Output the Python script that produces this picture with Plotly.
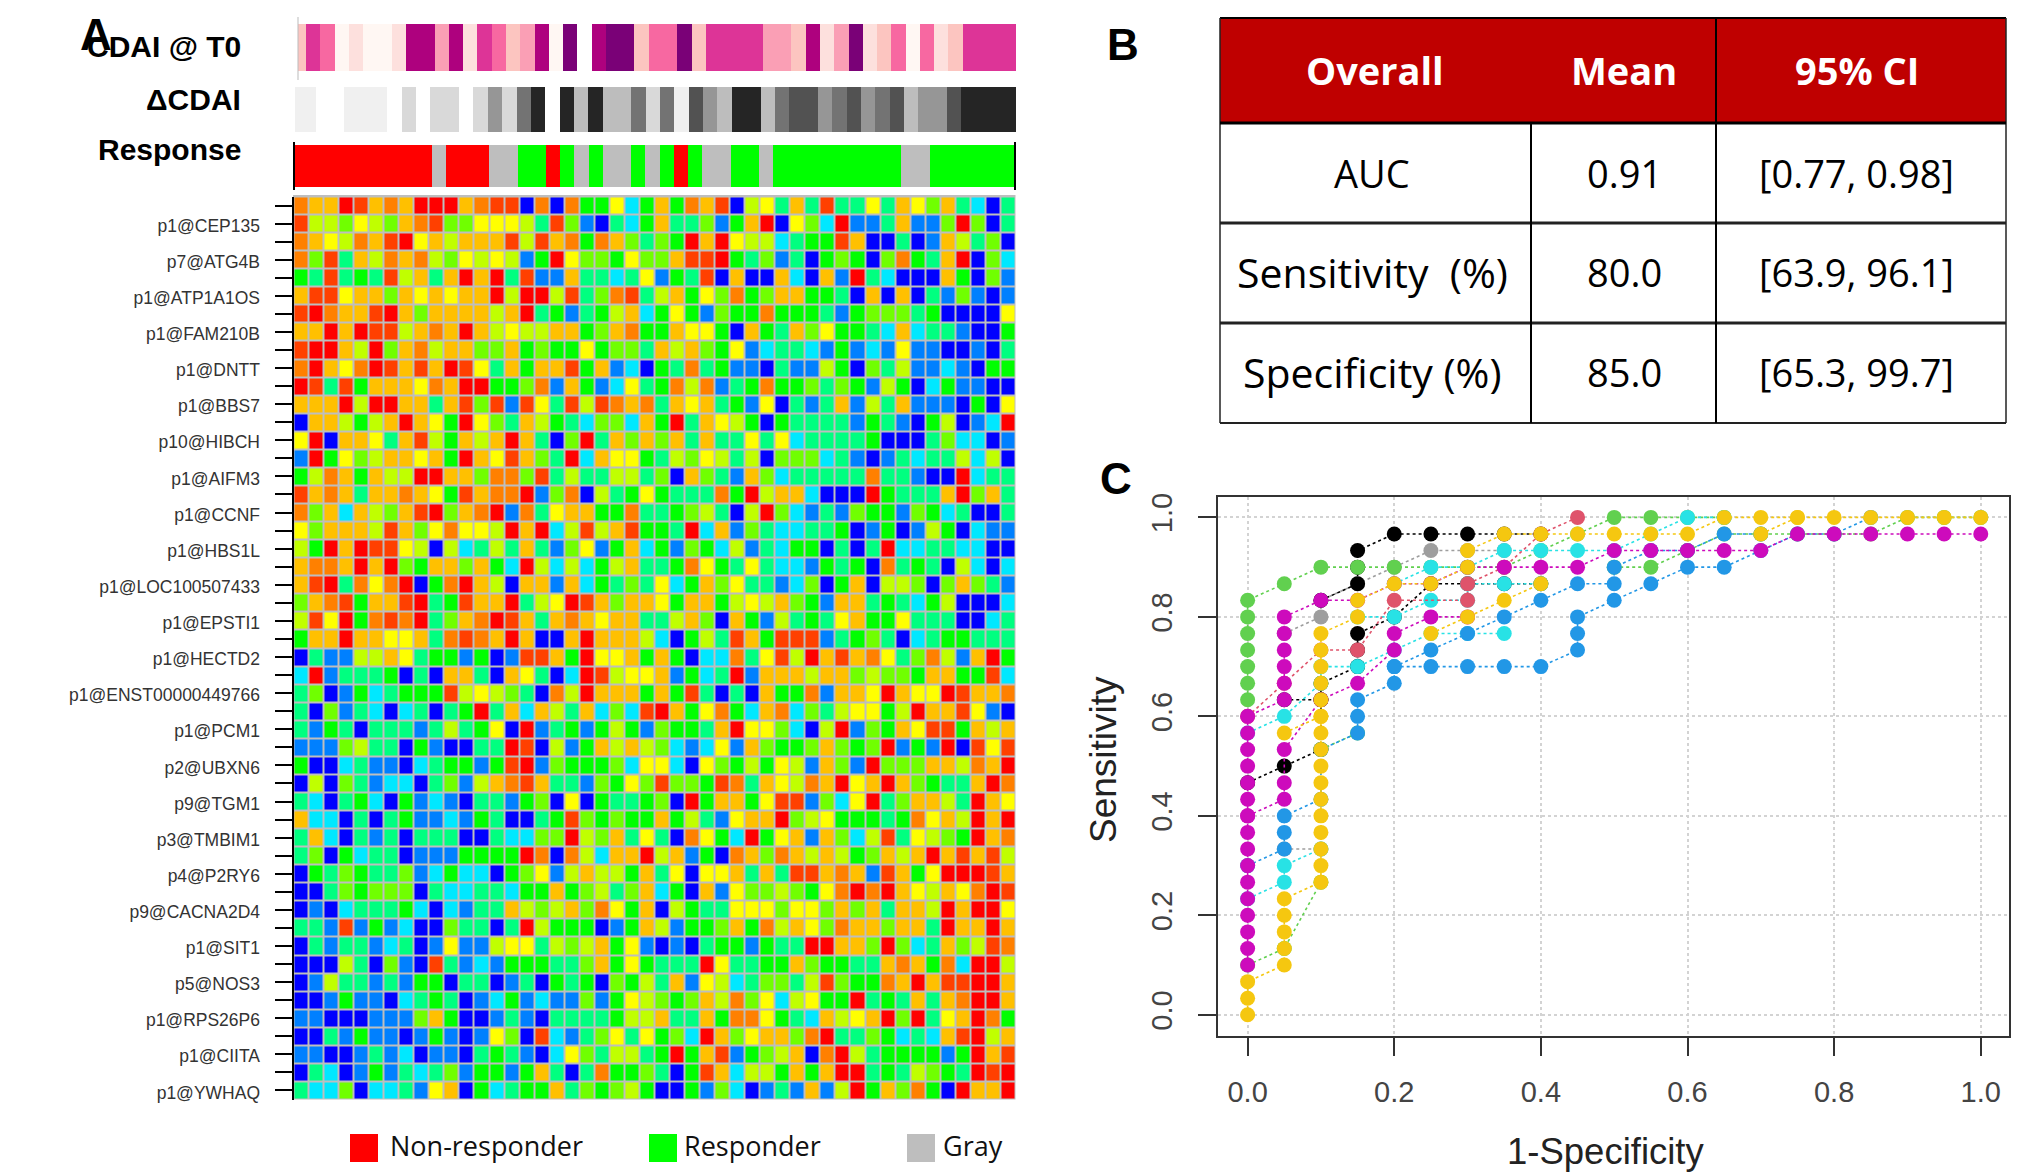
import plotly.graph_objects as go

W, H = 2031, 1173

# ---------- panel A data ----------
gene_labels = ["p1@CEP135", "p7@ATG4B", "p1@ATP1A1OS", "p1@FAM210B", "p1@DNTT", "p1@BBS7", "p10@HIBCH",
               "p1@AIFM3", "p1@CCNF", "p1@HBS1L", "p1@LOC100507433", "p1@EPSTI1", "p1@HECTD2",
               "p1@ENST00000449766", "p1@PCM1", "p2@UBXN6", "p9@TGM1", "p3@TMBIM1", "p4@P2RY6",
               "p9@CACNA2D4", "p1@SIT1", "p5@NOS3", "p1@RPS26P6", "p1@CIITA", "p1@YWHAQ"]

heat_colors = ["#0000ff", "#0080ff", "#00e8ff", "#00ff80", "#00ff00", "#70ff00", "#c0ff00", "#ffff00",
               "#ffc000", "#ff8000", "#ff4000", "#ff0000"]

# one level per cell, base-12 code (0 = blue ... b = red)
heat_rows = [
 "9 8 8 b a 8 9 8 b b b 8 9 a a 0 9 0 9 4 4 7 2 4 8 4 9 8 a 0 6 7 3 8 3 a 3 3 7 3 8 7 5 8 3 2 0 3",
 "a 6 6 5 7 6 5 8 9 a 5 5 7 7 7 6 3 a 5 1 0 3 2 4 8 3 3 5 1 4 8 b 0 7 5 2 b 1 1 3 8 1 1 5 b 5 0 3",
 "9 8 7 6 9 8 a b 7 8 6 8 8 8 a 6 a 8 9 4 9 8 5 3 5 4 b 8 b 7 6 6 2 3 4 4 a 8 0 0 3 0 1 8 6 3 5 0",
 "9 5 a 3 8 6 9 8 9 6 5 7 6 7 6 1 4 b 7 5 5 4 7 5 5 8 a a b 4 3 5 1 3 0 4 5 4 0 5 9 4 3 8 b 0 5 2",
 "4 3 a 3 4 3 a 6 8 3 8 b 8 b 3 a 1 1 8 3 3 2 3 7 1 4 3 a 0 8 0 0 8 2 0 8 1 b 3 2 0 0 0 8 4 0 5 1",
 "8 a a 7 8 8 5 8 7 8 7 8 8 b 6 b b 6 a 3 5 9 a 3 6 8 4 7 5 9 4 5 8 8 4 4 3 0 8 0 8 0 3 1 5 1 0 1",
 "a b 9 8 8 a b 8 5 8 8 8 8 6 8 b 3 4 1 3 4 6 8 2 4 7 4 1 5 4 4 9 4 4 4 3 1 4 5 5 5 3 4 0 0 0 0 7",
 "8 8 b 8 b a a 6 8 9 8 b 8 6 7 6 6 8 8 4 5 8 9 4 4 8 7 7 4 0 8 4 3 8 5 7 4 4 3 2 8 2 3 3 1 0 0 4",
 "a b b 8 6 b 5 8 9 6 8 8 5 5 8 4 5 4 4 7 4 5 5 3 8 6 8 5 4 7 1 2 3 3 2 1 4 1 2 1 7 1 1 0 0 1 0 3",
 "9 b 8 7 9 b a 8 a 8 b a 7 3 8 4 8 8 a 4 8 1 2 0 4 3 9 3 4 1 1 0 3 1 1 6 4 0 5 3 6 1 1 2 1 0 4 4",
 "b a 3 a 4 8 8 8 7 9 8 b b 4 4 5 9 1 8 4 1 2 7 3 4 9 6 9 1 3 4 9 4 4 5 3 5 4 1 6 4 0 2 4 1 1 0 0",
 "8 8 8 b 6 b b 8 8 3 8 a 5 a 1 a 7 3 a 6 a 9 8 9 3 8 7 8 3 4 1 7 0 3 1 3 8 1 6 3 8 1 1 1 0 4 0 7",
 "0 8 8 6 4 6 8 b 8 7 4 b 7 5 3 8 6 4 3 2 5 5 2 8 4 b 3 8 7 6 4 0 4 3 3 3 3 1 4 3 1 0 4 6 0 1 2 b",
 "7 b 0 8 8 7 3 8 a 6 4 8 6 8 b 8 3 0 5 b 3 8 5 8 5 8 3 8 3 3 7 3 7 2 3 3 3 3 4 0 0 0 3 5 2 2 0 1",
 "1 b 4 7 5 6 8 8 7 8 4 b 8 7 a 8 5 3 b 2 8 7 7 4 3 6 5 7 6 3 6 0 5 5 5 2 3 1 0 1 3 2 3 3 6 2 6 0",
 "4 6 9 8 4 8 6 6 b b 8 8 5 9 9 5 a 3 6 3 3 6 6 3 5 0 8 5 3 1 8 5 2 3 3 3 3 3 9 3 3 1 0 0 b 2 3 3",
 "a 8 9 8 3 8 8 9 8 7 4 a 8 9 9 b 1 5 9 0 6 3 4 7 4 3 3 3 9 4 b 6 8 8 2 0 0 0 b 4 3 3 3 8 b 5 8 3",
 "9 5 8 2 8 6 5 8 a b 5 8 9 b 1 9 3 7 8 8 4 4 9 3 3 4 5 6 3 0 6 b 5 2 1 3 1 5 4 4 1 5 4 2 3 0 0 3",
 "7 5 8 8 8 6 a 8 5 7 9 7 7 6 b 8 b 2 6 a 6 8 a 4 4 3 b 2 8 1 5 3 2 2 3 3 4 0 1 4 0 1 6 4 0 2 1 1",
 "6 4 b 8 b a a 7 6 0 6 2 3 6 3 8 3 1 5 7 1 4 8 2 4 1 5 4 2 6 1 3 2 4 4 0 3 0 3 b 2 2 3 3 2 2 0 0",
 "8 9 9 8 b 8 b 5 4 8 8 5 8 4 2 b 6 2 6 2 4 6 8 3 3 4 9 7 4 3 7 3 2 2 1 4 3 4 0 9 3 4 3 0 6 2 0 2",
 "8 a b 3 9 7 9 b 0 4 9 b 8 6 0 8 8 1 8 2 4 3 5 3 7 2 4 8 5 7 3 3 1 2 5 0 4 8 0 6 6 5 0 5 8 5 3 1",
 "5 8 9 a 4 8 8 a b 3 4 a 8 8 b 3 6 7 b a 8 5 8 8 7 4 8 8 4 6 7 6 8 5 4 1 8 8 3 4 3 2 4 6 0 0 0 2",
 "6 a 7 b 4 9 a 9 b 3 5 8 9 b a 8 3 8 9 8 7 8 8 3 3 6 8 5 0 8 4 1 6 3 4 3 7 8 4 4 7 3 3 3 0 0 2 3",
 "4 8 8 b 8 8 7 7 8 3 9 a 9 8 b 8 0 0 8 b 8 8 8 6 2 0 4 6 3 a 8 4 a a a 1 3 4 5 3 0 2 3 4 4 3 3 3",
 "0 3 1 1 6 6 8 7 3 4 4 1 4 0 1 a a 8 4 b 7 7 8 4 8 4 0 2 2 9 3 7 a 6 b 8 a 8 9 7 3 5 9 6 1 8 b 4",
 "2 b 1 3 3 3 4 0 3 0 8 8 3 0 8 7 3 0 2 b a 6 7 7 8 1 4 2 3 b 1 8 8 8 6 8 8 5 6 5 5 4 8 8 4 4 a 2",
 "3 5 0 1 4 2 3 4 4 4 a 6 7 6 5 3 0 9 6 b 8 8 8 4 8 4 a 3 0 3 0 8 4 4 9 1 8 8 7 b 8 7 7 b a 8 8 9",
 "3 0 5 1 3 2 0 2 3 0 3 4 b 3 8 2 8 6 3 8 2 5 2 a b 8 4 7 9 4 2 8 9 2 5 3 6 7 7 4 6 b 8 8 a 7 1 0",
 "3 1 4 3 0 3 3 3 1 3 6 3 4 7 0 b 1 3 4 1 4 6 4 1 5 4 4 3 8 b 7 7 5 2 0 6 b 1 5 4 8 7 a a 4 8 6 8",
 "1 1 1 5 6 3 3 0 4 1 0 0 3 3 b a 0 6 1 4 8 6 8 6 5 2 1 2 7 1 8 5 4 4 5 8 5 4 5 b 1 4 1 b 0 a 7 a",
 "4 0 0 2 3 1 1 0 2 3 4 4 1 4 a b 1 5 4 4 4 5 2 7 7 2 0 7 5 4 6 4 7 6 1 8 5 1 b 5 5 5 8 8 6 9 8 b",
 "0 6 0 5 3 1 2 2 0 3 5 1 6 8 9 a 8 3 3 1 5 4 7 5 a 5 5 4 a 9 3 8 7 6 9 8 b 7 8 b 8 5 4 3 3 8 b 9",
 "3 2 0 3 4 2 0 4 1 2 1 0 3 3 1 4 5 0 7 0 4 3 3 4 5 0 b 4 8 8 4 7 a a 1 5 2 7 b 3 5 8 8 6 3 b 8 7",
 "8 2 2 0 3 0 3 4 1 1 2 1 4 3 0 0 3 4 a 5 4 5 4 4 8 4 6 3 1 7 8 8 b 5 6 7 4 4 4 3 4 9 7 8 6 b 8 b",
 "3 8 2 0 3 1 3 0 3 3 3 0 0 3 2 2 5 5 b 6 5 8 3 7 3 0 9 7 4 2 b 4 7 8 1 8 5 2 6 a 3 7 6 5 4 b 8 9",
 "3 5 0 4 2 3 3 0 1 1 1 4 4 4 4 b 9 0 9 6 2 8 8 b 6 8 1 4 0 9 8 5 9 8 6 8 6 4 5 8 6 8 b 8 a 8 a 6",
 "0 4 3 5 4 3 3 5 1 2 4 2 2 0 4 5 7 1 6 8 6 6 4 8 3 7 0 7 7 8 3 8 3 a a 8 9 8 1 a 8 4 7 b b b a 8",
 "0 0 3 5 4 5 5 5 0 3 2 2 3 3 2 4 4 8 4 5 6 3 5 8 2 4 0 8 1 7 5 5 6 5 4 7 9 b 9 b 8 7 6 8 7 9 b a",
 "0 1 0 2 3 3 3 4 2 0 2 1 3 3 8 6 5 6 8 5 9 7 4 8 0 6 4 3 3 7 7 7 5 7 7 5 8 5 8 3 8 8 6 b 8 b b 7",
 "3 3 1 a 1 4 1 2 0 0 5 3 3 0 3 b 6 4 4 4 0 1 4 8 6 1 4 4 5 8 4 9 6 8 7 5 9 8 8 5 8 8 3 b 8 8 b 8",
 "0 3 1 3 3 1 2 3 0 1 7 1 1 6 7 7 3 6 5 6 8 4 7 1 0 1 0 3 4 4 1 4 3 3 b b 8 8 5 b 5 2 3 8 5 6 a 9",
 "0 0 0 6 3 0 5 1 0 a 3 1 2 1 4 4 4 3 3 5 8 4 7 4 3 3 3 b 7 3 3 4 4 8 5 4 4 3 3 8 9 8 4 9 2 b b 6",
 "0 1 6 3 3 1 3 1 4 4 0 3 3 0 1 3 0 4 3 4 0 5 4 6 3 8 1 7 6 2 3 5 5 3 6 a 5 4 4 9 8 b 8 a a b b 8",
 "0 0 1 4 1 1 0 2 3 4 3 0 1 2 4 1 2 1 1 5 1 4 7 6 5 4 5 8 6 9 5 7 2 6 7 4 4 b 3 4 3 8 3 8 9 b b 8",
 "1 1 0 0 0 1 1 1 5 8 4 0 0 1 3 1 0 3 3 3 3 4 6 6 8 3 3 8 4 9 9 7 4 3 2 8 6 7 8 b 5 b 3 7 8 b 9 4",
 "0 0 3 1 4 1 1 0 1 4 1 0 1 7 5 0 a 2 1 3 5 7 3 7 4 5 2 b 8 5 7 8 8 5 9 b 3 3 5 4 2 3 2 8 a b 6 8",
 "1 1 0 0 1 3 1 2 0 1 1 0 3 4 3 1 0 2 7 5 3 6 6 3 4 b 4 8 a 1 4 5 6 8 0 9 b 6 3 4 4 4 4 1 4 b 8 a",
 "0 3 2 0 1 4 1 3 2 3 5 1 4 4 1 4 8 3 0 3 9 4 4 5 3 0 4 a 8 2 6 6 4 8 4 8 b b 3 4 3 6 5 4 3 b a b",
 "3 2 2 5 0 2 2 3 1 7 8 0 4 2 3 4 4 8 3 5 4 5 6 4 0 0 4 1 5 2 0 1 3 1 8 1 6 b 4 8 5 9 4 0 b 8 8 b",
]

cdai_colors = ["#ffffff", "#fff7f3", "#fde0dd", "#fcc5c0", "#fa9fb5", "#f768a1", "#dd3497", "#ae017e", "#7a0177"]
cdai_levels = [3, 6, 5, 1, 2, 1, 1, 2, 7, 7, 4, 7, 2, 6, 5, 3, 4, 7, 1, 8, 0, 7, 8, 8, 3, 5, 5, 8, 3, 6, 6, 6, 6,
               4, 4, 3, 7, 2, 4, 8, 2, 3, 5, 1, 5, 2, 3, 6, 6, 6, 6]

delta_colors = ["#ffffff", "#f0f0f0", "#d9d9d9", "#bdbdbd", "#969696", "#737373", "#525252", "#252525"]
delta_levels = [1, 1, 0, 0, 1, 1, 1, 0, 2, 0, 2, 2, 0, 2, 4, 2, 5, 7, 0, 7, 3, 7, 3, 3, 5, 2, 5, 1, 6, 4, 3, 7, 7,
                3, 5, 6, 6, 4, 5, 6, 4, 5, 6, 3, 4, 4, 6, 7, 7, 7, 7]

resp_colors = ["#ff0000", "#00ff00", "#bebebe"]
resp_levels = [0] * 10 + [2] + [0] * 3 + [2, 2, 1, 1, 0, 1, 2, 1, 2, 2, 1, 2, 1, 0, 1, 2, 2, 1, 1, 2] + [1] * 9 + [2, 2] + [1] * 6

legend_names = ["Non-responder", "Responder", "Gray"]

# ---------- panel B data ----------
tbl_header = ["Overall", "Mean", "95% CI"]
tbl_names = ["AUC", "Sensitivity  (%)", "Specificity (%)"]
tbl_means = ["0.91", "80.0", "85.0"]
tbl_cis = ["[0.77, 0.98]", "[63.9, 96.1]", "[65.3, 99.7]"]

# ---------- panel C data: 1-specificity and count of 30 positives ----------
C_BLACK, C_RED, C_GREEN, C_BLUE, C_CYAN, C_MAG, C_YEL, C_GRAY = ("#000000", "#DF536B", "#61D04F", "#2297E6",
                                                                 "#28E2E5", "#CD0BBC", "#F5C710", "#9E9E9E")
gray1_x = [.05, .1]; gray1_k = [10, 10]
gray2_x = [.05, .1, .1, .15, .2, .25, .3, .35]; gray2_k = [23, 24, 25, 26, 27, 28, 28, 28]
black1_x = [0, .05, .1, .1, .1, .15, .15, .15, .2, .25, .3, .35, .4]
black1_k = [14, 15, 16, 19, 20, 21, 22, 23, 24, 26, 26, 26, 26]
black2_x = [.1, .15, .15, .15, .2, .25, .3, .35, .4]; black2_k = [25, 26, 27, 28, 29, 29, 29, 29, 29]
black3_x = [.05, .1]; black3_k = [19, 19]
green1_x = [0, 0, 0, 0, 0, 0, 0, .05, .1, .15, .2, .25, .3, .35, .4, .45, .5, .55, .6, .65]
green1_k = [19, 20, 21, 22, 23, 24, 25, 26, 27, 27, 27, 27, 27, 27, 28, 29, 30, 30, 30, 30]
green2_x = [0, .05, .1]; green2_k = [3, 4, 8]
green3_x = [.1, .15]; green3_k = [16, 17]
green4_x = [.5, .55, .6, .65, .7, .75, .8, .85, .9, .95, 1]
green4_k = [27, 27, 28, 29, 29, 29, 29, 29, 30, 30, 30]
cyan1_x = [0, .05, .05, .1]; cyan1_k = [7, 8, 9, 10]
cyan2_x = [0, .05, .1, .1, .15, .2, .25, .3, .35]; cyan2_k = [17, 18, 20, 21, 21, 22, 23, 23, 23]
cyan3_x = [.15, .2, .25, .3, .3, .35, .4]; cyan3_k = [24, 24, 25, 25, 26, 26, 26]
cyan4_x = [.2, .25, .3, .35, .4, .45, .5, .55, .6, .65]; cyan4_k = [26, 27, 27, 28, 28, 28, 28, 29, 30, 30]
red1_x = [0, .05, .1, .15, .2, .3, .3, .35, .4, .45]; red1_k = [18, 20, 22, 22, 25, 25, 26, 27, 29, 30]
blue1_x = [0, .05, .05, .05, .1, .1, .15, .15, .15, .2, .2, .25, .3, .35, .4, .45, .45, .45, .5, .55, .6, .65, .7, .75, .8, .85]
blue1_k = [9, 10, 11, 12, 13, 16, 17, 18, 19, 20, 21, 21, 21, 21, 21, 22, 23, 24, 25, 26, 27, 27, 28, 29, 29, 30]
blue2_x = [.2, .25, .3, .35, .4, .45, .5, .5, .55, .6, .65, .7]; blue2_k = [21, 22, 23, 24, 25, 26, 26, 27, 28, 28, 29, 29]
mag1_x = [0] * 16 + [.05] * 6 + [.1, .15, .2, .25, .3, .35, .4, .45, .5, .55, .6, .65, .7, .75, .8, .85, .9, .95, 1]
mag1_k = [3, 4, 5, 6, 7, 8, 9, 10, 11, 12, 13, 14, 15, 16, 17, 18, 19, 20, 21, 22, 23, 24,
          25, 25, 26, 26, 27, 27, 27, 27, 28, 28, 28, 28, 28, 29, 29, 29, 29, 29, 29]
mag2_x = [0, .05, .05, .05, .1, .15, .2, .2, .25, .3]; mag2_k = [12, 13, 14, 16, 19, 20, 22, 23, 24, 24]
yel1_x = [0, 0, 0] + [.05] * 5 + [.1] * 16 + [.15, .15, .2, .25, .3, .3, .35, .4, .45, .5, .55, .6, .65, .7, .75, .8, .85, .9, .95, 1]
yel1_k = [0, 1, 2, 3, 4, 5, 6, 7, 8, 9, 10, 11, 12, 13, 14, 15, 16, 17, 18, 19, 20, 21, 22, 23,
          24, 25, 26, 26, 27, 28, 29, 29, 29, 29, 29, 29, 30, 30, 30, 30, 30, 30, 30, 30]
yel2_x = [.05, .1]; yel2_k = [17, 18]
yel3_x = [.25, .3, .35, .4]; yel3_k = [23, 24, 25, 26]
yel4_x = [.7, .75]; yel4_k = [29, 30]

roc_curves = [(C_GRAY, gray1_x, gray1_k), (C_GRAY, gray2_x, gray2_k), (C_BLACK, black1_x, black1_k),
              (C_BLACK, black2_x, black2_k), (C_BLACK, black3_x, black3_k), (C_GREEN, green1_x, green1_k),
              (C_GREEN, green2_x, green2_k), (C_GREEN, green3_x, green3_k), (C_GREEN, green4_x, green4_k),
              (C_CYAN, cyan1_x, cyan1_k), (C_CYAN, cyan2_x, cyan2_k),
              (C_CYAN, cyan3_x, cyan3_k), (C_CYAN, cyan4_x, cyan4_k), (C_RED, red1_x, red1_k),
              (C_BLUE, blue1_x, blue1_k), (C_BLUE, blue2_x, blue2_k), (C_MAG, mag1_x, mag1_k),
              (C_MAG, mag2_x, mag2_k), (C_YEL, yel1_x, yel1_k), (C_YEL, yel2_x, yel2_k),
              (C_YEL, yel3_x, yel3_k), (C_YEL, yel4_x, yel4_k)]
n_positive = 30
roc_ticks = [0, 0.2, 0.4, 0.6, 0.8, 1.0]

# ---------- helpers ----------
SANS = "Liberation Sans"
BODY = "Open Sans"


def dx(px0, px1):
    return [px0 / W, px1 / W]


def dy(py0, py1):
    return [1 - py1 / H, 1 - py0 / H]


def discrete(colors):
    n = len(colors)
    out = []
    for i, c in enumerate(colors):
        out += [[i / n, c], [(i + 1) / n, c]]
    return out


def note(px, py, s, size, color="black", bold=False, family=SANS, xanchor="center", angle=0):
    text = f"<b>{s}</b>" if bold else s
    return dict(x=px / W, y=1 - py / H, xref="paper", yref="paper", text=text, showarrow=False,
                xanchor=xanchor, yanchor="middle", textangle=angle, font=dict(size=size, color=color, family=family))


def rect(x0, y0, x1, y1, fill, line=None, layer="above"):
    return dict(type="rect", xref="paper", yref="paper", x0=x0 / W, x1=x1 / W, y0=1 - y0 / H, y1=1 - y1 / H,
                fillcolor=fill, line=dict(width=0) if line is None else line, layer=layer)


def seg(x0, y0, x1, y1, color="black", width=2):
    return dict(type="line", xref="paper", yref="paper", x0=x0 / W, x1=x1 / W, y0=1 - y0 / H, y1=1 - y1 / H,
                line=dict(color=color, width=width))


fig = go.Figure()
shapes, notes = [], []

# ---------- heat map ----------
matrix = [[int(ch, 12) for ch in row.split()] for row in heat_rows]
assert len(matrix) == 50 and all(len(r) == 48 for r in matrix)
shapes.append(rect(293, 195, 1015.5, 1099.5, "#bebebe", layer="below"))
fig.add_trace(go.Heatmap(z=matrix, colorscale=discrete(heat_colors), zmin=-0.5, zmax=11.5, showscale=False,
                         xgap=2, ygap=2, xaxis="x", yaxis="y", hoverongaps=False))

# ---------- annotation tracks ----------
fig.add_trace(go.Heatmap(z=[cdai_levels], colorscale=discrete(cdai_colors), zmin=-0.5, zmax=8.5,
                         showscale=False, xaxis="x2", yaxis="y2"))
fig.add_trace(go.Heatmap(z=[delta_levels], colorscale=discrete(delta_colors), zmin=-0.5, zmax=7.5,
                         showscale=False, xaxis="x3", yaxis="y3"))
fig.add_trace(go.Heatmap(z=[resp_levels], colorscale=discrete(resp_colors), zmin=-0.5, zmax=2.5,
                         showscale=False, xaxis="x4", yaxis="y4"))

# ---------- ROC curves ----------
for color, xs, ks in roc_curves:
    fig.add_trace(go.Scatter(x=xs, y=[k / n_positive for k in ks], mode="lines+markers", xaxis="x5", yaxis="y5",
                             line=dict(color=color, width=1.6, dash="dot"),
                             marker=dict(color=color, size=15, symbol="circle", line=dict(width=0))))

hidden = dict(visible=False, showgrid=False, zeroline=False, automargin=False)
layout = dict(
    template="none",
    width=W, height=H, margin=dict(l=0, r=0, t=0, b=0, pad=0), paper_bgcolor="white", plot_bgcolor="rgba(0,0,0,0)",
    showlegend=False,
    xaxis=dict(domain=dx(293.5, 1015.4), range=[-0.5, 47.5], anchor="y", **hidden),
    yaxis=dict(domain=dy(196.5, 1099.5), range=[49.5, -0.5], anchor="x", showgrid=False, zeroline=False,
               automargin=False,
               showline=True, linecolor="black", linewidth=2, ticks="outside", ticklen=17, tickwidth=1.5,
               tickcolor="black", tickmode="array", tickvals=list(range(50)),
               ticktext=[gene_labels[i // 2] if i % 2 else "" for i in range(50)],
               ticklabelstandoff=11, ticklabelshift=-2,
               tickfont=dict(family=SANS, size=17.5, color="#333333")),
    xaxis2=dict(domain=dx(298, 1016), range=[-0.069, 50.2], anchor="y2", **hidden),
    yaxis2=dict(domain=dy(24, 71), anchor="x2", range=[-0.5, 0.5], **hidden),
    xaxis3=dict(domain=dx(295, 1016), range=[0.064, 50.28], anchor="y3", **hidden),
    yaxis3=dict(domain=dy(87, 132), anchor="x3", range=[-0.5, 0.5], **hidden),
    xaxis4=dict(domain=dx(294.5, 1014.8), range=[-0.187, 50.5], anchor="y4", **hidden),
    yaxis4=dict(domain=dy(145, 187), anchor="x4", range=[-0.5, 0.5], **hidden),
    xaxis5=dict(domain=dx(1218, 2009), range=[-0.0404, 1.0385], anchor="y5", tickmode="array", tickvals=roc_ticks,
                automargin=False,
                ticktext=[f"{v:.1f}" for v in roc_ticks], ticks="outside", ticklen=18, tickwidth=1.5,
                tickcolor="#333333", showline=True, mirror=True, linecolor="#333333", linewidth=2, showgrid=True,
                gridcolor="#d3d3d3", griddash="dot", gridwidth=2, zeroline=False, ticklabelstandoff=12,
                tickfont=dict(family=SANS, size=29, color="#444444")),
    yaxis5=dict(domain=dy(497, 1035.5), range=[-0.0416, 1.041], anchor="x5", tickmode="array", tickvals=roc_ticks,
                automargin=False,
                ticktext=[f"{v:.1f}" for v in roc_ticks], ticks="outside", ticklen=18, tickwidth=1.5,
                tickangle=-90, tickcolor="#333333", showline=True, mirror=True, linecolor="#333333", linewidth=2,
                showgrid=True, gridcolor="#d3d3d3", griddash="dot", gridwidth=2, zeroline=False,
                ticklabelstandoff=14, tickfont=dict(family=SANS, size=29, color="#444444")),
)

# track decorations
shapes += [seg(294, 142, 294, 190, "black", 2), seg(1015, 142, 1015, 190, "black", 2),
           seg(298, 17, 298, 80, "#bbbbbb", 1)]

# row labels above the heat map
notes += [note(243, 47, "CDAI @ T0", 30, bold=True, xanchor="right"),
          note(243, 100, "ΔCDAI", 30, bold=True, xanchor="right"),
          note(243, 150, "Response", 30, bold=True, xanchor="right")]

# panel letters
notes += [note(96, 35, "A", 44, bold=True), note(1123, 44, "B", 44, bold=True), note(1116, 479, "C", 44, bold=True)]

# legend
legend_boxes = [(350, 378), (649, 677), (907, 935)]
legend_text_x = [388, 682, 941]
for (x0, x1), c, tx, name in zip(legend_boxes, resp_colors, legend_text_x, legend_names):
    shapes.append(rect(x0, 1134, x1, 1162, c))
    notes.append(note(tx, 1145, name, 27, family=BODY, xanchor="left", color="#111111"))

# ---------- table ----------
shapes.append(rect(1220, 18, 2006, 123, "#bf0000"))
shapes += [seg(1220, 18, 2006, 18), seg(1220, 18, 1220, 423, "#222222", 1.5), seg(2006, 18, 2006, 423, "#222222", 1.5),
           seg(1220, 423, 2006, 423, "#222222", 2), seg(1220, 123, 2006, 123, "black", 3),
           seg(1220, 223, 2006, 223, "#222222", 3), seg(1220, 323, 2006, 323, "#222222", 3),
           seg(1531, 123, 1531, 423), seg(1716, 18, 1716, 423)]
col_x = [1375, 1624, 1857]
for cx, s in zip(col_x, tbl_header):
    notes.append(note(cx, 70, s, 38, color="white", bold=True, family=BODY))
name_sizes = [38, 41, 41]
for ry, name, nsize, mean, ci in zip([173, 272, 372], tbl_names, name_sizes, tbl_means, tbl_cis):
    notes.append(note(1372, ry, name.replace("  ", "&nbsp;&nbsp;"), nsize, family=BODY))
    notes.append(note(1624, ry, mean, 38, family=BODY))
    notes.append(note(1856, ry, ci, 38, family=BODY))

# axis titles of panel C
notes += [note(1103, 760, "Sensitivity", 37, xanchor="center", angle=-90, color="#222222"),
          note(1606, 1151, "1-Specificity", 36.5, color="#222222")]

layout["shapes"] = shapes
layout["annotations"] = notes
fig.update_layout(**layout)
fig.write_html("out.html", config={"displayModeBar": False},
               post_script="document.body.style.margin='0';document.body.style.overflow='hidden';")
